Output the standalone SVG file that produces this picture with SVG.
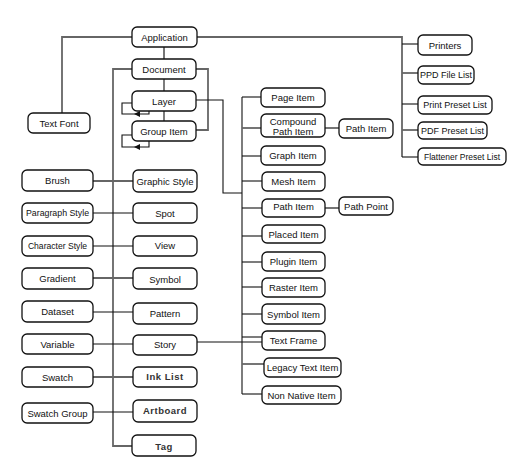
<svg xmlns="http://www.w3.org/2000/svg" width="520" height="463" viewBox="0 0 520 463">
<style>
.b{fill:#fff;stroke:#111;stroke-width:1.3}
.t{font-family:"Liberation Sans",Arial,sans-serif;font-size:9.5px;fill:#111;text-anchor:middle;dominant-baseline:central}
.g{fill:none;stroke:#666;stroke-width:1.8}
.k{fill:none;stroke:#111;stroke-width:1.1}
</style>
<rect width="520" height="463" fill="#fff"/>
<g id="connectors">
<path class="g" d="M132,37 H62 V113"/>
<path class="g" d="M197,37 H402 V157"/>
<path class="k" d="M402,44 H418"/>
<path class="g" d="M402,73 H418"/>
<path class="k" d="M402,104 H418"/>
<path class="g" d="M402,130 H418"/>
<path class="k" d="M402,157 H418"/>
<path class="g" d="M164,47 V59"/>
<path class="k" d="M164,79 V91"/>
<path class="k" d="M164,111 V121"/>
<path class="g" d="M132,69 H113 V446 H132"/>
<path class="g" d="M196,69 H208 V130 H196"/>
<path class="k" d="M196,100 H223 V193 H242"/>
<path class="k" d="M149,111 V114 H122 V103 H132"/>
<polygon fill="#111" points="134,114 140,111 140,117"/>
<path class="k" d="M149,141 V147 H122 V135 H132"/>
<polygon fill="#111" points="134,147 140,144 140,150"/>
<path class="g" d="M93,181 H133"/>
<path class="k" d="M93,213 H133"/>
<path class="k" d="M93,246 H133"/>
<path class="g" d="M93,278 H133"/>
<path class="k" d="M93,312 H133"/>
<path class="k" d="M93,344 H133"/>
<path class="g" d="M93,377 H133"/>
<path class="k" d="M93,412 H133"/>
<path class="k" d="M242,97 V394"/>
<path class="k" d="M242,97 H261"/>
<path class="g" d="M242,128 H261"/>
<path class="k" d="M242,156 H261"/>
<path class="k" d="M242,181 H262"/>
<path class="k" d="M242,208 H262"/>
<path class="k" d="M242,236 H262"/>
<path class="k" d="M242,262 H262"/>
<path class="k" d="M242,287 H262"/>
<path class="k" d="M242,314 H262"/>
<path class="k" d="M242,337 H262"/>
<path class="k" d="M197,342 H262"/>
<path class="g" d="M242,364 H264"/>
<path class="k" d="M242,394 H262"/>
<path class="g" d="M325,128 H339"/>
<path class="g" d="M325,208 H339"/>
</g>
<g id="application"><rect class="b" x="132" y="27" width="65" height="20" rx="5"/><text class="t" x="164.5" y="37.5">Application</text></g>
<g id="document"><rect class="b" x="132" y="59" width="64" height="20" rx="5"/><text class="t" x="164" y="69.5">Document</text></g>
<g id="layer"><rect class="b" x="132" y="91" width="64" height="20" rx="5"/><text class="t" x="164" y="101">Layer</text></g>
<g id="groupitem"><rect class="b" x="132" y="121" width="64" height="20" rx="5"/><text class="t" x="164" y="131">Group Item</text></g>
<g id="textfont"><rect class="b" x="28" y="113" width="62" height="20" rx="5"/><text class="t" x="59" y="123">Text Font</text></g>
<g id="printers"><rect class="b" x="418" y="35" width="54" height="20" rx="5"/><text class="t" x="445" y="45">Printers</text></g>
<g id="ppd"><rect class="b" x="418" y="66" width="56" height="18" rx="5"/><text class="t" x="446" y="75" style="font-size:9px">PPD File List</text></g>
<g id="printpreset"><rect class="b" x="418" y="96" width="74" height="18" rx="5"/><text class="t" x="455" y="105" style="font-size:9px">Print Preset List</text></g>
<g id="pdfpreset"><rect class="b" x="418" y="122" width="69" height="17" rx="5"/><text class="t" x="452.5" y="130.5" style="font-size:9px">PDF Preset List</text></g>
<g id="flattener"><rect class="b" x="418" y="148" width="88" height="17" rx="5"/><text class="t" x="462" y="156.5" style="font-size:8.5px">Flattener Preset List</text></g>
<g id="pageitem"><rect class="b" x="261" y="88" width="64" height="19" rx="5"/><text class="t" x="293" y="97.5">Page Item</text></g>
<g id="compound"><rect class="b" x="261" y="114" width="64" height="23" rx="5"/><text class="t" x="293" y="121">Compound</text><text class="t" x="293" y="131">Path Item</text></g>
<g id="pathitem2"><rect class="b" x="339" y="119" width="54" height="19" rx="5"/><text class="t" x="366" y="128.5">Path Item</text></g>
<g id="graphitem"><rect class="b" x="261" y="146" width="64" height="19" rx="5"/><text class="t" x="293" y="155.5">Graph Item</text></g>
<g id="meshitem"><rect class="b" x="262" y="172" width="63" height="19" rx="5"/><text class="t" x="293.5" y="181.5">Mesh Item</text></g>
<g id="pathitem"><rect class="b" x="262" y="199" width="63" height="18" rx="5"/><text class="t" x="293.5" y="206">Path Item</text></g>
<g id="pathpoint"><rect class="b" x="339" y="197" width="54" height="18" rx="5"/><text class="t" x="366" y="206">Path Point</text></g>
<g id="placeditem"><rect class="b" x="262" y="225" width="63" height="18" rx="5"/><text class="t" x="293.5" y="234">Placed Item</text></g>
<g id="pluginitem"><rect class="b" x="262" y="252" width="63" height="19" rx="5"/><text class="t" x="293.5" y="261.5">Plugin Item</text></g>
<g id="rasteritem"><rect class="b" x="262" y="278" width="63" height="19" rx="5"/><text class="t" x="293.5" y="287.5">Raster Item</text></g>
<g id="symbolitem"><rect class="b" x="262" y="304" width="63" height="20" rx="5"/><text class="t" x="293.5" y="314">Symbol Item</text></g>
<g id="textframe"><rect class="b" x="262" y="331" width="63" height="19" rx="5"/><text class="t" x="293.5" y="340">Text Frame</text></g>
<g id="legacytext"><rect class="b" x="264" y="358" width="77" height="19" rx="5"/><text class="t" x="302.5" y="367">Legacy Text Item</text></g>
<g id="nonnative"><rect class="b" x="262" y="386" width="79" height="18" rx="5"/><text class="t" x="301.5" y="395">Non Native Item</text></g>
<g id="brush"><rect class="b" x="22" y="170" width="71" height="21" rx="5"/><text class="t" x="57.5" y="180.5">Brush</text></g>
<g id="graphicstyle"><rect class="b" x="133" y="170" width="64" height="22" rx="5"/><text class="t" x="165" y="181">Graphic Style</text></g>
<g id="paragraphstyle"><rect class="b" x="22" y="203" width="71" height="20" rx="5"/><text class="t" x="57.5" y="213" style="font-size:8.8px">Paragraph Style</text></g>
<g id="spot"><rect class="b" x="133" y="203" width="64" height="20" rx="5"/><text class="t" x="165" y="213">Spot</text></g>
<g id="characterstyle"><rect class="b" x="22" y="236" width="71" height="20" rx="5"/><text class="t" x="57.5" y="246" style="font-size:8.6px">Character Style</text></g>
<g id="view"><rect class="b" x="133" y="236" width="64" height="20" rx="5"/><text class="t" x="165" y="245.5">View</text></g>
<g id="gradient"><rect class="b" x="22" y="268" width="71" height="21" rx="5"/><text class="t" x="57.5" y="278">Gradient</text></g>
<g id="symbol"><rect class="b" x="133" y="268" width="64" height="21" rx="5"/><text class="t" x="165" y="279">Symbol</text></g>
<g id="dataset"><rect class="b" x="22" y="301" width="71" height="21" rx="5"/><text class="t" x="57.5" y="311">Dataset</text></g>
<g id="pattern"><rect class="b" x="133" y="303" width="64" height="21" rx="5"/><text class="t" x="165" y="313.5">Pattern</text></g>
<g id="variable"><rect class="b" x="22" y="334" width="71" height="20" rx="5"/><text class="t" x="57.5" y="344">Variable</text></g>
<g id="story"><rect class="b" x="133" y="335" width="64" height="20" rx="5"/><text class="t" x="165" y="344.5">Story</text></g>
<g id="swatch"><rect class="b" x="22" y="367" width="71" height="20" rx="5"/><text class="t" x="57.5" y="377">Swatch</text></g>
<g id="inklist"><rect class="b" x="133" y="367" width="64" height="20" rx="5"/><text class="t" x="165" y="376.5" style="font-weight:bold;fill:#333;letter-spacing:0.5px">Ink List</text></g>
<g id="swatchgroup"><rect class="b" x="22" y="403" width="71" height="20" rx="5"/><text class="t" x="57.5" y="413">Swatch Group</text></g>
<g id="artboard"><rect class="b" x="133" y="400" width="64" height="22" rx="5"/><text class="t" x="165" y="410" style="font-weight:bold;fill:#333;letter-spacing:0.5px">Artboard</text></g>
<g id="tag"><rect class="b" x="132" y="435" width="64" height="21" rx="5"/><text class="t" x="164" y="446" style="font-weight:bold;fill:#333;letter-spacing:0.5px">Tag</text></g>
</svg>
